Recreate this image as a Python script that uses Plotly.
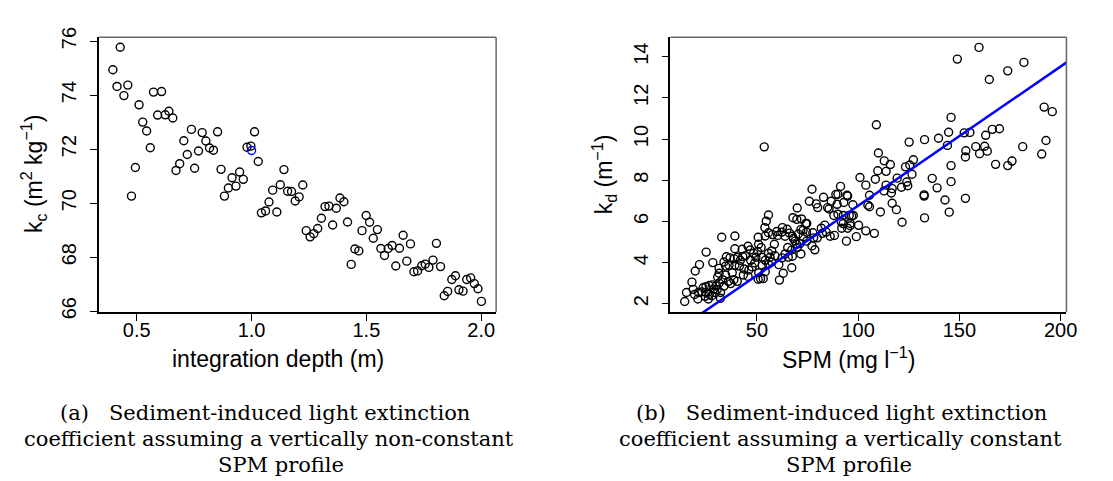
import plotly.graph_objects as go

# ---------------- data: panel (a) ----------------
depth = [0.428, 0.396, 0.414, 0.461, 0.444, 0.510, 0.573, 0.608, 0.526, 0.543,
         0.591, 0.624, 0.640, 0.657, 0.559, 0.494, 0.477, 0.705, 0.738, 0.720,
         0.687, 0.671, 0.752, 0.769, 0.785, 0.801, 0.817, 0.834, 0.852, 0.867,
         0.882, 0.899, 0.915, 0.932, 0.948, 0.964, 0.980, 0.997, 1.013, 1.029,
         1.043, 1.061, 1.076, 1.092, 1.110, 1.125, 1.141, 1.157, 1.174, 1.190,
         1.207, 1.223, 1.238, 1.255, 1.271, 1.288, 1.304, 1.320, 1.337, 1.353,
         1.369, 1.385, 1.402, 1.418, 1.434, 1.450, 1.467, 1.481, 1.499, 1.514,
         1.530, 1.548, 1.563, 1.579, 1.595, 1.612, 1.628, 1.644, 1.660, 1.676,
         1.692, 1.707, 1.723, 1.741, 1.756, 1.772, 1.790, 1.805, 1.823, 1.839,
         1.854, 1.872, 1.888, 1.903, 1.921, 1.937, 1.954, 1.970, 1.986, 2.001]
kc = [75.77, 74.94, 74.32, 74.37, 73.98, 73.64, 74.11, 74.13, 73.00, 72.67,
      73.26, 73.27, 73.40, 73.15, 72.05, 71.32, 70.26, 72.31, 72.73, 71.80,
      71.46, 71.21, 71.29, 71.93, 72.61, 72.30, 72.04, 71.96, 72.64, 71.25,
      70.26, 70.56, 70.94, 70.63, 71.15, 70.88, 72.07, 72.11, 72.64, 71.54,
      69.64, 69.71, 70.04, 70.48, 69.67, 70.68, 71.24, 70.44, 70.43, 70.08,
      70.23, 70.67, 68.98, 68.75, 68.87, 69.06, 69.44, 69.87, 69.89, 69.19,
      69.81, 70.19, 70.05, 69.30, 67.73, 68.30, 68.23, 68.98, 69.54, 69.29,
      68.70, 69.02, 68.32, 68.06, 68.32, 68.43, 67.67, 68.33, 68.81, 67.85,
      68.49, 67.46, 67.49, 67.68, 67.74, 67.62, 67.89, 68.51, 67.65, 66.57,
      66.73, 67.17, 67.31, 66.79, 66.74, 67.17, 67.23, 67.02, 66.83, 66.36]
highlight_depth = [1.0]
highlight_kc = [71.95]

# ---------------- data: panel (b) ----------------
spm = [159.7, 149.0, 181.9, 173.9, 164.8, 191.9, 195.9, 145.9, 109.0, 53.6,
       169.8, 166.3, 152.4, 155.2, 163.0, 144.7, 139.7, 132.8, 125.2, 144.1,
       158.1, 162.5, 163.8, 160.0, 153.2, 153.0, 181.3, 192.8, 190.7, 176.0,
       173.9, 167.9, 145.9, 145.9, 110.0, 112.9, 115.9, 113.8, 109.7, 123.4,
       127.3, 125.5, 126.6, 124.0, 121.4, 124.5, 119.3, 116.8, 116.4, 112.8,
       113.8, 108.5, 103.8, 100.9, 105.6, 104.8, 105.6, 116.8, 118.9, 111.0,
       121.7, 108.0, 103.8, 99.1, 100.2, 94.2, 136.6, 139.0, 132.6, 132.6,
       142.9, 145.0, 132.8, 153.0, 94.8, 97.4, 97.6, 96.1, 94.8, 95.6,
       77.2, 75.9, 79.3, 80.0, 82.9, 84.9, 86.7, 89.0, 90.0, 91.3,
       89.6, 92.9, 94.5, 96.8, 88.0, 90.0, 91.6, 92.6, 91.9, 96.1,
       69.9, 67.8, 69.7, 72.0, 74.6, 55.7, 54.6, 53.9, 39.1, 32.6,
       24.9, 21.6, 19.5, 17.9, 15.2, 14.3, 28.2, 39.1, 45.6, 50.6,
       54.1, 55.7, 57.7, 59.8, 62.6, 64.9, 66.1, 67.5, 68.8, 71.7,
       72.8, 74.1, 72.9, 77.6, 78.0, 79.8, 82.3, 84.2, 86.2, 88.3,
       78.6, 77.2, 71.7, 69.6, 67.2, 67.5, 65.5, 67.2, 63.0, 61.1,
       60.8, 62.4, 63.9, 65.2, 58.6, 57.3, 56.5, 57.3, 58.9, 55.7,
       54.1, 52.6, 50.9, 51.8, 50.6, 53.1, 50.8, 50.3, 52.1, 49.5,
       48.9, 46.9, 47.6, 46.0, 45.6, 43.6, 43.3, 41.8, 41.3, 43.0,
       44.3, 40.4, 38.8, 39.1, 37.8, 38.6, 40.3, 36.7, 34.9, 33.7,
       34.5, 36.2, 31.3, 31.3, 30.6, 33.0, 34.5, 35.9, 37.0, 33.7,
       31.3, 29.7, 28.0, 26.4, 24.8, 23.4, 22.8, 24.8, 26.4, 27.7,
       29.3, 30.4, 32.0, 26.0, 20.8, 19.2, 18.5, 32.0, 21.1, 24.4,
       28.6, 62.3, 63.9, 68.0, 70.4, 74.5, 69.9, 71.2, 74.6, 42.7,
       46.7, 48.4, 52.5, 54.1, 55.7, 60.3, 81.8, 83.5, 85.6, 92.7]
kd = [14.45, 13.88, 13.72, 13.31, 12.89, 11.55, 11.33, 11.05, 10.69, 9.62,
      10.50, 10.47, 10.30, 10.32, 10.18, 10.33, 10.04, 9.97, 9.85, 9.69,
      9.63, 9.65, 9.41, 9.29, 9.43, 9.13, 9.63, 9.93, 9.27, 8.93,
      8.71, 8.77, 8.71, 7.93, 9.32, 8.94, 8.76, 8.43, 8.46, 8.65,
      8.99, 8.74, 8.29, 7.91, 7.66, 7.73, 8.10, 7.59, 7.38, 7.48,
      7.76, 8.05, 7.76, 8.13, 7.27, 6.79, 6.71, 6.88, 6.57, 6.46,
      5.96, 5.42, 5.54, 5.26, 5.81, 5.04, 8.09, 7.63, 7.29, 7.23,
      7.04, 6.45, 6.17, 7.12, 7.23, 6.81, 6.29, 5.90, 5.67, 6.29,
      7.56, 6.98, 6.85, 6.67, 7.17, 6.67, 6.98, 7.31, 7.32, 7.70,
      6.83, 6.92, 7.27, 6.26, 6.29, 6.35, 5.98, 5.89, 5.67, 5.79,
      6.65, 6.18, 6.10, 6.12, 5.90, 6.31, 6.01, 5.70, 5.29, 5.23,
      4.51, 3.90, 3.59, 3.05, 2.55, 2.11, 4.00, 4.67, 4.79, 5.23,
      5.29, 5.45, 5.36, 5.51, 5.70, 5.62, 5.43, 5.28, 5.04, 5.60,
      5.57, 5.90, 5.26, 5.45, 5.20, 5.20, 5.42, 5.48, 5.28, 5.32,
      4.62, 4.81, 4.42, 4.89, 4.61, 4.31, 4.26, 3.75, 3.48, 3.15,
      3.90, 4.23, 4.42, 4.73, 4.89, 4.57, 4.26, 4.03, 4.33, 4.45,
      4.11, 3.87, 3.51, 3.22, 3.19, 3.22, 4.89, 4.54, 4.73, 4.26,
      3.98, 4.11, 3.79, 3.64, 3.33, 3.69, 3.40, 4.11, 3.83, 4.29,
      4.34, 4.26, 4.18, 3.87, 3.51, 3.17, 3.09, 4.23, 4.28, 4.03,
      3.83, 3.87, 3.72, 3.48, 3.30, 3.17, 3.39, 3.09, 2.98, 2.86,
      3.01, 2.86, 2.92, 2.89, 2.83, 2.78, 2.58, 2.55, 2.45, 2.39,
      2.55, 2.70, 2.55, 2.23, 2.23, 2.45, 2.70, 2.27, 2.55, 2.36,
      2.70, 5.48, 5.28, 5.17, 5.39, 5.48, 4.73, 4.92, 5.04, 4.65,
      4.61, 4.45, 4.26, 3.56, 3.92, 5.32, 5.67, 5.82, 6.60, 6.29]
fit_slope = 0.0676  # kd = slope * SPM (regression through origin)

# ---------------- axis settings ----------------
xa_range = [0.336, 2.065]
ya_range = [65.96, 76.14]
xb_range = [7.24, 202.9]
yb_range = [1.59, 14.94]
xa_ticks = [0.5, 1.0, 1.5, 2.0]
xa_ticktext = ["0.5", "1.0", "1.5", "2.0"]
ya_ticks = [66, 68, 70, 72, 74, 76]
xb_ticks = [50, 100, 150, 200]
yb_ticks = [2, 4, 6, 8, 10, 12, 14]

W, H = 1113, 481
def fx(px):
    return px / W
def fy(py):
    return 1 - py / H

dom_xa = [fx(92), fx(493)]
dom_xb = [fx(669), fx(1069)]
dom_y = [fy(305), fy(20)]

marker_black = dict(symbol="circle-open", size=8, color="black", line=dict(width=1.4, color="black"))

fig = go.Figure()
fig.add_trace(go.Scatter(x=depth, y=kc, mode="markers", marker=marker_black,
                         xaxis="x", yaxis="y", showlegend=False))
fig.add_trace(go.Scatter(x=highlight_depth, y=highlight_kc, mode="markers",
                         marker=dict(symbol="circle-open", size=8, color="blue",
                                     line=dict(width=1.4, color="blue")),
                         xaxis="x", yaxis="y", showlegend=False))
fig.add_trace(go.Scatter(x=spm, y=kd, mode="markers", marker=marker_black,
                         xaxis="x2", yaxis="y2", showlegend=False))
line_x = [0, 220]
fig.add_trace(go.Scatter(x=line_x, y=[fit_slope * v for v in line_x], mode="lines",
                         line=dict(color="#0000FF", width=2.5),
                         xaxis="x2", yaxis="y2", showlegend=False))

font_axis = "Liberation Sans, Arial, sans-serif"
tickfont = dict(family=font_axis, size=20, color="black")

def xaxis(domain, rng, ticks, anchor, text=None):
    d = dict(domain=domain, range=rng, tickvals=ticks, ticks="outside", ticklen=7,
             tickwidth=1.2, tickcolor="black", showline=True, linecolor="black",
             linewidth=1.5, showgrid=False, zeroline=False, tickfont=tickfont,
             anchor=anchor, ticklabelstandoff=-8)
    if text:
        d["ticktext"] = text
    return d

def yaxis(domain, rng, ticks, anchor):
    return dict(domain=domain, range=rng, tickvals=ticks, ticks="outside", ticklen=7,
                tickwidth=1.2, tickcolor="black", showline=True, linecolor="black",
                linewidth=1.5, showgrid=False, zeroline=False, tickfont=tickfont,
                tickangle=-90, anchor=anchor, ticklabelstandoff=6)

fig.update_layout(
    width=W, height=H, margin=dict(l=0, r=0, t=0, b=0),
    paper_bgcolor="white", plot_bgcolor="white",
    xaxis=xaxis(dom_xa, xa_range, xa_ticks, "y", xa_ticktext),
    yaxis=yaxis(dom_y, ya_range, ya_ticks, "x"),
    xaxis2=xaxis(dom_xb, xb_range, xb_ticks, "y2"),
    yaxis2=yaxis(dom_y, yb_range, yb_ticks, "x2"),
)

# grey top/right box edges
for dx in (dom_xa, dom_xb):
    fig.add_shape(type="line", xref="paper", yref="paper", x0=dx[0], x1=dx[1],
                  y0=dom_y[1], y1=dom_y[1], line=dict(color="#666666", width=1.5))
    fig.add_shape(type="line", xref="paper", yref="paper", x0=dx[1], x1=dx[1],
                  y0=dom_y[0], y1=dom_y[1], line=dict(color="#666666", width=1.5))

title_font = dict(family=font_axis, size=23, color="black")
ann = [
    dict(text="integration depth (m)", x=fx(273), y=fy(354)),
    dict(text="SPM (mg l<sup>−1</sup>)", x=fx(849), y=fy(352)),
    dict(text="k<sub>c</sub> (m<sup>2</sup> kg<sup>−1</sup>)", x=fx(26), y=fy(162), textangle=-90),
    dict(text="k<sub>d</sub> (m<sup>−1</sup>)", x=fx(602), y=fy(162), textangle=-90),
]
for a in ann:
    fig.add_annotation(xref="paper", yref="paper", showarrow=False, font=title_font,
                       xanchor="center", yanchor="middle", **a)

cap_font = dict(family="DejaVu Serif, serif", size=21, color="black")
captions = [
    ("(a)   Sediment-induced light extinction", 260, 409),
    ("coefficient assuming a vertically non-constant", 264, 436),
    ("SPM profile", 276, 463),
    ("(b)   Sediment-induced light extinction", 842, 409),
    ("coefficient assuming a vertically constant", 841, 436),
    ("SPM profile", 849, 463),
]
for t, cx, cy in captions:
    fig.add_annotation(xref="paper", yref="paper", showarrow=False, font=cap_font,
                       text=t.replace("   ", "&nbsp;&nbsp;&nbsp;"), x=fx(cx), y=fy(cy),
                       xanchor="center", yanchor="middle")

fig.write_html("out.html")
